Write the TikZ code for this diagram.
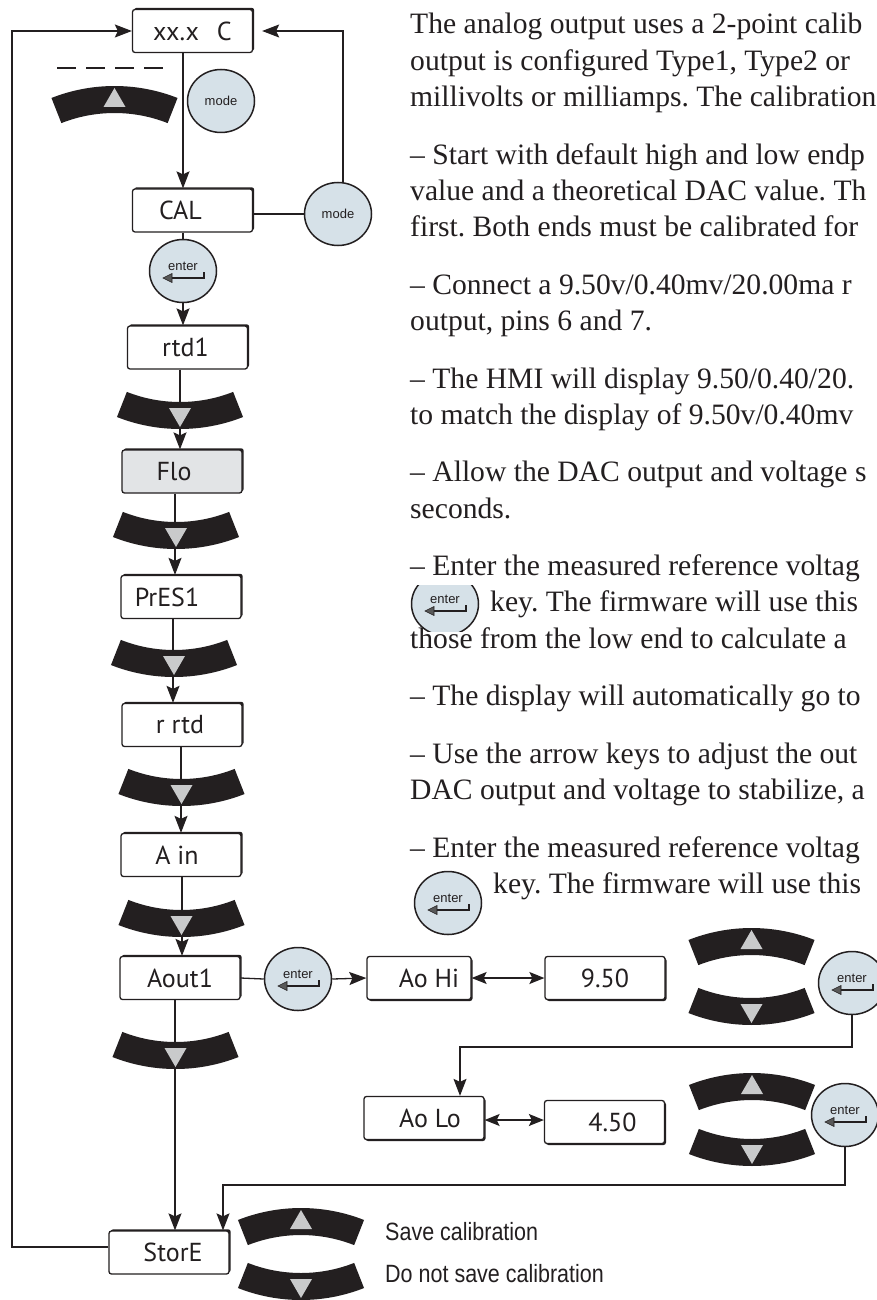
\documentclass[tikz,border=0pt]{standalone}
\usepackage{fontspec}
\newfontfamily\bodyfont{Liberation Serif}
\newfontfamily\boxfont{PT Sans}
\newfontfamily\condfont{Liberation Sans}[FakeStretch=0.86]
\newfontfamily\arialfont{Liberation Sans}
\usetikzlibrary{arrows.meta,shapes.geometric,shadows}
\definecolor{keyblack}{HTML}{231F20}
\definecolor{keygray}{HTML}{C9CACB}
\definecolor{btnfill}{HTML}{D6E1E8}
\definecolor{flofill}{HTML}{E2E4E6}
\definecolor{ink}{HTML}{231F20}
\newcommand\tshift[1]{\hspace*{#1pt}\hspace*{#1pt}}
\frenchspacing
\tikzset{
  ln/.style={line width=1.3pt, draw=ink},
  arr/.style={ln, -{Stealth[length=17pt,width=13pt,inset=3pt]}},
  darr/.style={ln, {Stealth[length=15pt,width=12pt,inset=3pt]}-{Stealth[length=15pt,width=12pt,inset=3pt]}},
  boxbase/.style={draw=ink, line width=1.3pt, rounded corners=2.5pt, fill=white,
    minimum width=120pt, minimum height=43pt, inner sep=0pt, text=ink,
    font=\boxfont\fontsize{26pt}{26pt}\selectfont},
  dispbox/.style={boxbase, general shadow={fill=ink, shadow xshift=1.7pt, shadow yshift=1.7pt}},
  dispboxr/.style={boxbase, general shadow={fill=ink, shadow xshift=1.5pt, shadow yshift=-1.5pt}},
  btn/.style={ellipse, draw=ink, line width=1.5pt, fill=btnfill, minimum width=67pt,
    minimum height=63pt, inner sep=0pt},
  modebtn/.style={btn, text=ink, font=\arialfont\fontsize{13pt}{13pt}\selectfont},
  bodytext/.style={anchor=base west, inner sep=0pt, text=ink,
    font=\bodyfont\fontsize{29.6pt}{36pt}\selectfont},
  legendtext/.style={anchor=base west, inner sep=0pt, text=ink,
    font=\condfont\fontsize{25pt}{25pt}\selectfont},
  downkey/.pic={
    \fill[keyblack] (68.5:172) arc[start angle=68.5, end angle=111.5, radius=172]
      -- (111.5:145) arc[start angle=111.5, end angle=68.5, radius=145] -- cycle;
    \fill[keygray] (-11,151) -- (11,151) -- (0,170) -- cycle;
  },
  upkey/.pic={
    \fill[keyblack] (248.5:172) arc[start angle=248.5, end angle=291.5, radius=172]
      -- (291.5:145) arc[start angle=291.5, end angle=248.5, radius=145] -- cycle;
    \fill[keygray] (-11,-151) -- (11,-151) -- (0,-170) -- cycle;
  },
  entersym/.pic={
    \node[inner sep=0pt, text=ink, font=\arialfont\fontsize{13pt}{13pt}\selectfont] (-t) at (0,-5) {enter};
    \draw[line width=1.3pt, draw=ink] (-12,7) -- (21,7) -- (21,1);
    \filldraw[fill=black!65, draw=ink, line width=0.6pt] (-20,7) -- (-11,2.5) -- (-11,11.5) -- cycle;
  }
}
\begin{document}
\begin{tikzpicture}[x=1pt, y=-1pt]
\useasboundingbox (0,0) rectangle (877,1300);
\clip (0,0) rectangle (877,1300);
\fill[white] (0,0) rectangle (877,1300);

% column coordinates
\coordinate (x183) at (183,0);
\coordinate (x180) at (180,0);
\coordinate (x175) at (175,0);
\coordinate (x173) at (173,0);
\coordinate (x181) at (181,0);
\coordinate (x182) at (182,0);
\coordinate (xl) at (12,0);
\coordinate (ys) at (0,1247);
\coordinate (ylo) at (0,1120);
\coordinate (yj1) at (0,1047);
\coordinate (yj2) at (0,1185);

% display boxes, left column
\node[dispbox] (xxc) at (192.5,31) {xx.x\hspace{18pt}C};
\node[dispbox] (CAL) at (192.5,210.5) {\tshift{-12}CAL};
\node[dispbox] (rtd1) at (187.5,347.5) {\tshift{-2}rtd1};
\node[dispbox, fill=flofill] (Flo) at (182,471.5) {\tshift{-8}Flo};
\node[dispbox] (PrES1) at (181,597) {\tshift{-14}PrES1};
\node[dispbox] (rrtd) at (182,725) {\tshift{-2}r rtd};
\node[dispbox] (Ain) at (181,855) {\tshift{-4}A in};
\node[dispbox] (Aout1) at (180,978) {Aout1};
\node[dispbox] (StorE) at (169,1252.5) {\tshift{4}StorE};

% right boxes
\node[dispboxr, minimum width=104pt] (AoHi) at (419,978) {\tshift{10}Ao Hi};
\node[dispboxr] (v950) at (605,978) {9.50};
\node[dispboxr] (AoLo) at (424,1118) {\tshift{6}Ao Lo};
\node[dispboxr] (v450) at (604.5,1122) {\tshift{8}4.50};

% buttons
\node[modebtn] (mode1) at (221,101) {mode};
\node[modebtn] (mode2) at (338,214) {mode};
\node[btn] (ent1) at (183,271) {};
\node[btn] (ent3) at (298,979) {};
\node[btn] (enthi) at (852,983) {};
\node[btn] (entlo) at (845,1115) {};
\node[btn] (ent6) at (448,903) {};
\begin{scope}
  \clip (400,585) rectangle (490,631);
  \node[btn] (ent5) at (445,604) {};
  \pic (ent5s) at (ent5) {entersym};
\end{scope}
\pic (ent1s) at (ent1) {entersym};
\pic (ent3s) at (ent3) {entersym};
\pic (enthis) at (enthi) {entersym};
\pic (entlos) at (entlo) {entersym};
\pic (ent6s) at (ent6) {entersym};

% connectors, left column
\draw[arr] (xxc.south -| x183) -- (CAL.north -| x183);
\draw[ln] (CAL.south -| x183) -- (ent1.north);
\draw[arr] (ent1.south) -- (rtd1.north -| x183);
\draw[arr] (rtd1.south -| x180) -- (Flo.north -| x180);
\draw[arr] (Flo.south -| x175) -- (PrES1.north -| x175);
\draw[arr] (PrES1.south -| x173) -- (rrtd.north -| x173);
\draw[arr] (rrtd.south -| x181) -- (Ain.north -| x181);
\draw[arr] (Ain.south -| x182) -- (Aout1.north -| x182);
\draw[arr] (Aout1.south -| x175) -- (StorE.north -| x175);
\draw[arr] (StorE.west |- ys) -| (xl |- xxc.west) -- (xxc.west);
\draw[ln] (mode2.west -| CAL.east) -- (mode2.west);
\draw[arr] (mode2.81) |- ([xshift=9pt]xxc.east);

% connectors, right part
\draw[ln] (Aout1.east) -- (ent3.west);
\draw[arr] (ent3.east) -- (AoHi.west);
\draw[darr] (AoHi.east) -- (v950.west);
\draw[darr] (AoLo.east |- ylo) -- (v450.west |- ylo);
\draw[arr] (enthi.south) -- (enthi.south |- yj1) -| ([xshift=36pt]AoLo.north);
\draw[arr] (entlo.south) -- (entlo.south |- yj2) -| ([xshift=54pt]StorE.north);

% dashes
\draw[ln, dash pattern=on 19pt off 10pt] (57,68) -- (163,68);

% arrow keys
\pic (k0) at (114.5,258) {upkey};
\pic (d1) at (180,257) {downkey};
\pic (d2) at (176,377) {downkey};
\pic (d3) at (174,505) {downkey};
\pic (d4) at (181.5,634) {downkey};
\pic (d5) at (181.5,765) {downkey};
\pic (d6) at (175.5,897) {downkey};
\pic (uhi) at (751.5,1100) {upkey};
\pic (dhi) at (751.5,853) {downkey};
\pic (ulo) at (752,1245) {upkey};
\pic (dlo) at (752,994) {downkey};
\pic (ust) at (301,1380) {upkey};
\pic (dst) at (301,1128) {downkey};

% legend
\node[legendtext] (sav) at (385,1240) {Save calibration};
\node[legendtext] (nsav) at (385,1282) {Do not save calibration};

% body text
\node[bodytext] (t1) at (410,34) {The analog output uses a 2-point calib};
\node[bodytext] (t2) at (410,70.3) {output is configured Type1, Type2 or};
\node[bodytext] (t3) at (410,106.6) {millivolts or milliamps. The calibration};
\node[bodytext] (t4) at (410,164.1) {– Start with default high and low endp};
\node[bodytext] (t5) at (410,200.4) {value and a theoretical DAC value. Th};
\node[bodytext] (t6) at (410,236.7) {first. Both ends must be calibrated for};
\node[bodytext] (t7) at (410,294.2) {– Connect a 9.50v/0.40mv/20.00ma r};
\node[bodytext] (t8) at (410,330.5) {output, pins 6 and 7.};
\node[bodytext] (t9) at (410,388) {– The HMI will display 9.50/0.40/20.};
\node[bodytext] (t10) at (410,424.3) {to match the display of 9.50v/0.40mv};
\node[bodytext] (t11) at (410,481.8) {– Allow the DAC output and voltage s};
\node[bodytext] (t12) at (410,518.1) {seconds.};
\node[bodytext] (t13) at (410,575.6) {– Enter the measured reference voltag};
\node[bodytext] (t14) at (490,611.9) {key. The firmware will use this};
\node[bodytext] (t15) at (410,648.2) {those from the low end to calculate a};
\node[bodytext] (t16) at (410,705.7) {– The display will automatically go to};
\node[bodytext] (t17) at (410,763.2) {– Use the arrow keys to adjust the out};
\node[bodytext] (t18) at (410,799.5) {DAC output and voltage to stabilize, a};
\node[bodytext] (t19) at (410,857) {– Enter the measured reference voltag};
\node[bodytext] (t20) at (493,893.3) {key. The firmware will use this};
\end{tikzpicture}
\end{document}
